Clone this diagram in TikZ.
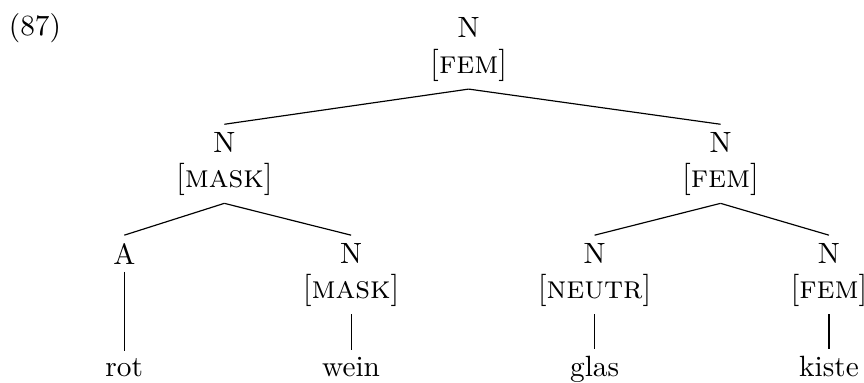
\documentclass[tikz,border=0pt]{standalone}
\usepackage{amsmath,amssymb}
\usepackage{tikz}
\usetikzlibrary{positioning}

% feature labels in brackets, set a little larger than the categories
\newcommand{\feat}[1]{{\fontsize{11}{13}\selectfont[\textsc{#1}]}}

\begin{document}
\begin{tikzpicture}[
  cat/.style={align=center, anchor=north, inner sep=2.5pt},
  leaf/.style={anchor=base, inner sep=2.5pt},
  branch/.style={thin}
]
  \useasboundingbox (0,0) rectangle (10.36,-4.59);
  \node[anchor=base west, inner sep=0pt] (ex) at (0.10,-0.42) {(87)};
  % upper part
  \node[cat] (top) at (5.62,-0.12) {N\\\feat{fem}};
  \node[cat] (lft) at (2.69,-1.49) {N\\\feat{mask}};
  \node[cat] (rgt) at (8.64,-1.49) {N\\\feat{fem}};
  % lower part
  \node[cat] (adj) at (1.49,-2.82) {A};
  \node[cat] (wn)  at (4.21,-2.82) {N\\\feat{mask}};
  \node[cat] (gn)  at (7.13,-2.82) {N\\\feat{neutr}};
  \node[cat] (kn)  at (9.94,-2.82) {N\\\feat{fem}};
  \node[leaf] (rot)   at (1.49,-4.52) {rot};
  \node[leaf] (wein)  at (4.21,-4.52) {wein};
  \node[leaf] (glas)  at (7.13,-4.52) {glas};
  \node[leaf] (kiste) at (9.94,-4.52) {kiste};
  \draw[branch] (top.south) -- (lft.north);
  \draw[branch] (top.south) -- (rgt.north);
  \draw[branch] (lft.south) -- (adj.north);
  \draw[branch] (lft.south) -- (wn.north);
  \draw[branch] (rgt.south) -- (gn.north);
  \draw[branch] (rgt.south) -- (kn.north);
  \draw[branch] (adj.south) -- (rot.north);
  \draw[branch] (wn.south) -- (wein.north);
  \draw[branch] (gn.south) -- (glas.north);
  \draw[branch] (kn.south) -- (kiste.north);
\end{tikzpicture}
\end{document}
